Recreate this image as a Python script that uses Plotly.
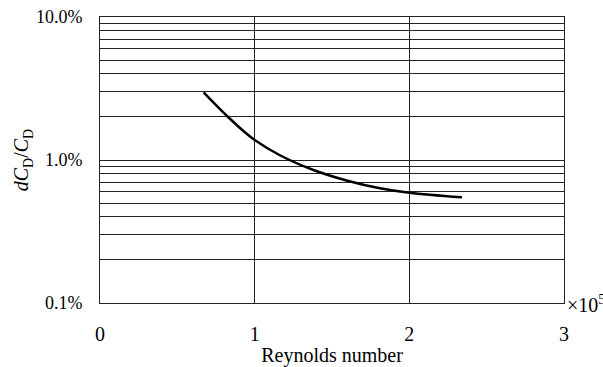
import plotly.graph_objects as go

# Reynolds number (x 10^5) and relative drag coefficient uncertainty (%)
reynolds = [0.67, 0.75, 0.83, 0.92, 1.0, 1.16, 1.38, 1.6, 1.81, 2.0, 2.34]
dcd_pct = [2.97, 2.42, 1.99, 1.62, 1.38, 1.084, 0.851, 0.716, 0.634, 0.59, 0.548]

x_ticks = [0, 1, 2, 3]
x_labels = ["0", "1", "2", "3"]
y_ticks = [0.1, 1, 10]
y_labels = ["0.1%", "1.0%", "10.0%"]
y_minor = [m * d for d in (0.1, 1) for m in range(2, 10)]

font_family = "Liberation Serif, Times New Roman, serif"

fig = go.Figure()
fig.add_trace(go.Scatter(
    x=reynolds, y=dcd_pct, mode="lines",
    line=dict(color="black", width=2.5, shape="spline", smoothing=1.0),
    showlegend=False, hoverinfo="skip",
))

fig.update_layout(
    width=603, height=367,
    margin=dict(l=100, r=39, t=17, b=64),
    paper_bgcolor="white", plot_bgcolor="white",
    font=dict(family=font_family, size=18, color="black"),
    xaxis=dict(
        range=[0, 3], tickvals=x_ticks, ticktext=x_labels,
        tickfont=dict(family=font_family, size=20),
        showgrid=True, gridcolor="#222", gridwidth=1,
        showline=True, linecolor="#222", linewidth=1, mirror=True,
        ticks="", zeroline=False, ticklabelstandoff=13, automargin=False,
        title=dict(text="Reynolds number", standoff=5,
                   font=dict(family=font_family, size=20)),
    ),
    yaxis=dict(
        type="log", range=[-1, 1], tickvals=y_ticks, ticktext=y_labels,
        tickfont=dict(family=font_family, size=18),
        showgrid=True, gridcolor="#222", gridwidth=1,
        minor=dict(tickvals=y_minor, showgrid=True, gridcolor="#222",
                   gridwidth=1, ticks=""),
        showline=True, linecolor="#222", linewidth=1, mirror=True,
        ticks="", zeroline=False, ticklabelstandoff=13, automargin=False,
        title=dict(text="<i>dC</i><sub>D</sub>/<i>C</i><sub>D</sub>",
                   standoff=1, font=dict(family=font_family, size=20)),
    ),
    annotations=[dict(
        text="×10<sup>5</sup>", xref="paper", yref="paper",
        x=1, y=0, xanchor="left", yanchor="middle", xshift=1, yshift=-1,
        showarrow=False, font=dict(family=font_family, size=20),
    )],
)

fig.write_html("out.html")
